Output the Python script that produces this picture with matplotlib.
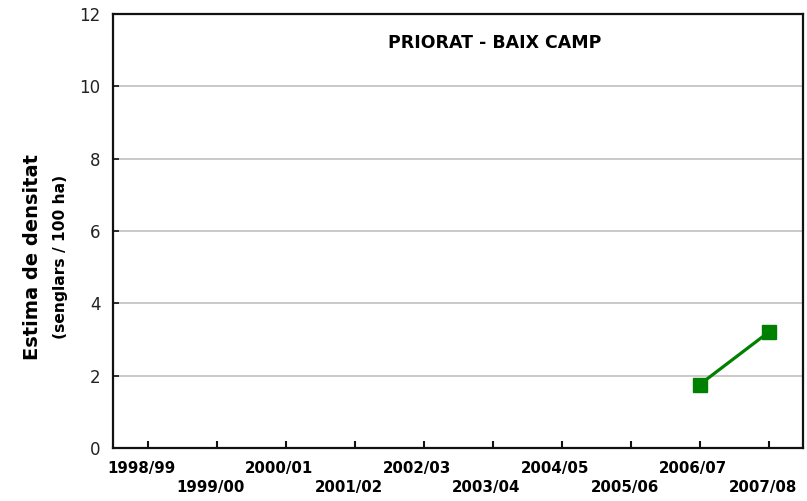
import matplotlib
matplotlib.use("Agg")
import matplotlib.pyplot as plt
import matplotlib.transforms as mtransforms

seasons = ["1998/99", "1999/00", "2000/01", "2001/02", "2002/03",
           "2003/04", "2004/05", "2005/06", "2006/07", "2007/08"]
density = [None, None, None, None, None, None, None, None, 1.75, 3.2]
title = "PRIORAT - BAIX CAMP"

plt.rcParams['font.family'] = ['DejaVu Sans']

fig = plt.figure(figsize=(8.07, 5.01), dpi=100)
ax = fig.add_axes([113/807, 1-448/501, (803-113)/807, (448-14)/501])

xs = [i for i, v in enumerate(density) if v is not None]
ys = [v for v in density if v is not None]
ax.plot(xs, ys, color='#008000', lw=2.3, marker='s', markersize=10.5, zorder=3)

ax.set_xlim(-0.5, len(seasons) - 0.5)
ax.set_ylim(0, 12)
ax.set_yticks(range(0, 13, 2))
for y in range(2, 12, 2):
    ax.axhline(y, color='#c0c0c0', lw=1.2, zorder=1)

ax.set_xticks(range(len(seasons)))
labels = [s if i % 2 == 0 else "\n" + s for i, s in enumerate(seasons)]
ax.set_xticklabels(labels, fontsize=10.8, fontweight='bold', linespacing=1.4)
ax.tick_params(axis='x', direction='in', length=5, width=1.5, pad=9, color='#111111')
ax.tick_params(axis='y', direction='in', length=4, width=1.2, labelsize=12, pad=9, color='#111111')
offset = mtransforms.ScaledTranslation(-6/100, 0, fig.dpi_scale_trans)
for lab in ax.get_xticklabels():
    lab.set_transform(lab.get_transform() + offset)
for lab in ax.get_yticklabels():
    lab.set_color('#222222')
for s in ax.spines.values():
    s.set_linewidth(1.6)
    s.set_color('#111111')

ax.text((495-113)/690, 1-(43-14)/434, title, transform=ax.transAxes, ha='center', va='center',
        fontsize=12.5, fontweight='bold')

fig.text(33/807, 1-257/501, "Estima de densitat", rotation=90, ha='center', va='center',
         fontsize=14, fontweight='bold')
fig.text(60/807, 1-257/501, "(senglars / 100 ha)", rotation=90, ha='center', va='center',
         fontsize=11.2, fontweight='bold')

fig.savefig("out.png", dpi=100)
